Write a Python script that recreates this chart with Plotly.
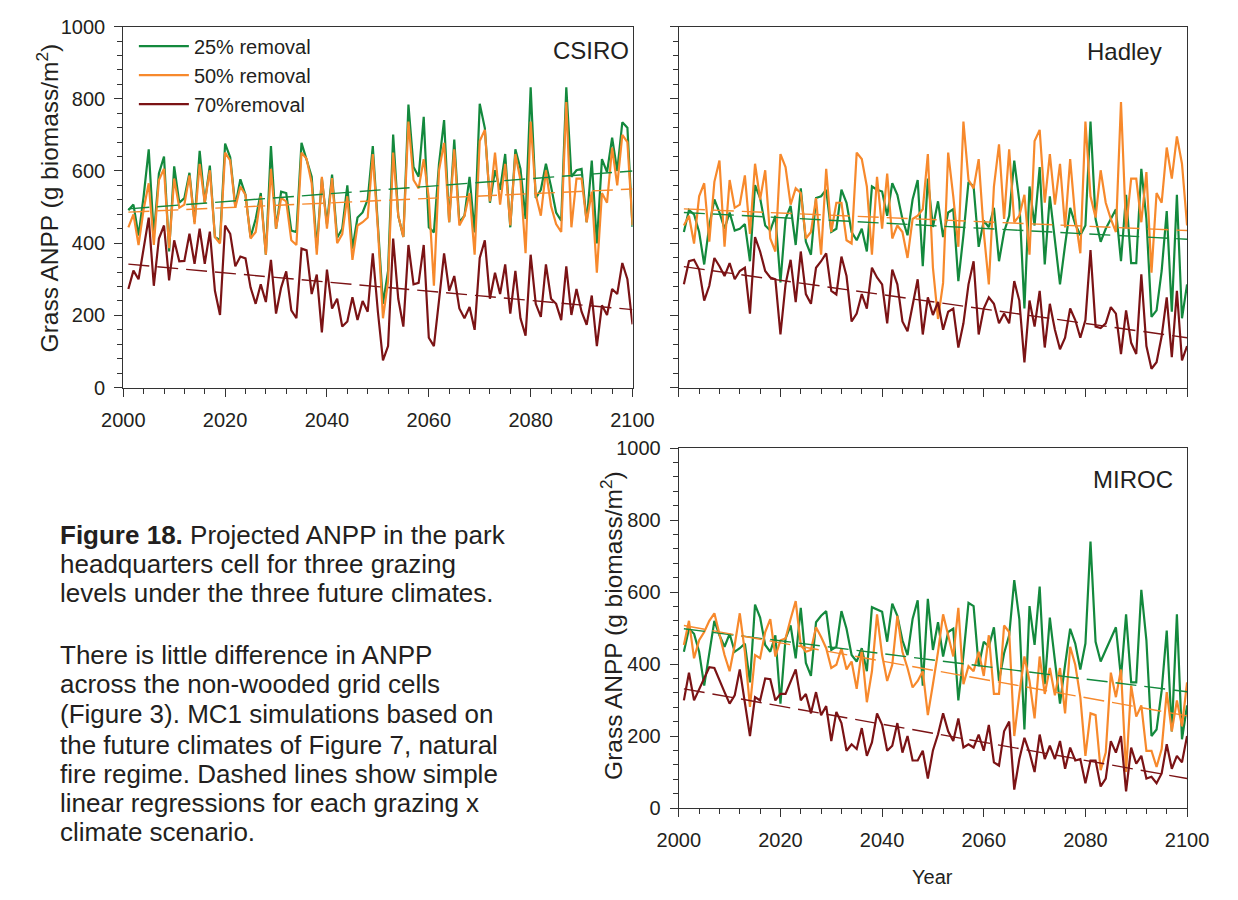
import plotly.graph_objects as go

years = list(range(2001, 2101))

# ---- CSIRO ----
csiro_25 = [491, 507, 421, 530, 660, 421, 593, 640, 377, 613,
            512, 525, 595, 458, 656, 512, 615, 417, 408, 676,
            638, 503, 577, 534, 417, 467, 539, 368, 669, 440,
            543, 539, 435, 431, 678, 629, 584, 386, 579, 453,
            590, 415, 440, 560, 385, 471, 485, 521, 669, 450,
            232, 323, 701, 476, 417, 784, 611, 584, 750, 444,
            430, 620, 741, 458, 687, 458, 476, 584, 430, 786,
            719, 512, 602, 548, 647, 444, 660, 606, 467, 832,
            525, 548, 620, 557, 485, 462, 832, 584, 602, 606,
            458, 629, 399, 633, 597, 692, 600, 735, 720, 445]
csiro_50 = [444, 480, 395, 494, 566, 395, 575, 606, 386, 579,
            498, 507, 588, 453, 620, 512, 602, 417, 399, 651,
            629, 498, 557, 534, 413, 431, 530, 368, 606, 440,
            525, 516, 408, 395, 651, 634, 566, 368, 584, 440,
            580, 400, 425, 530, 354, 449, 458, 471, 647, 440,
            192, 295, 651, 476, 417, 737, 575, 552, 633, 525,
            282, 602, 678, 458, 660, 449, 476, 539, 368, 683,
            714, 516, 651, 507, 620, 449, 647, 575, 372, 737,
            534, 476, 602, 503, 453, 431, 791, 444, 579, 579,
            458, 543, 318, 539, 512, 665, 560, 700, 680, 450]
csiro_70 = [273, 324, 300, 386, 471, 282, 413, 449, 297, 408,
            350, 351, 426, 343, 440, 343, 432, 268, 201, 449,
            426, 336, 363, 358, 277, 232, 286, 237, 354, 205,
            277, 322, 214, 192, 385, 380, 259, 313, 153, 327,
            219, 246, 169, 183, 250, 187, 240, 210, 372, 210,
            75, 115, 413, 246, 169, 395, 286, 290, 395, 138,
            115, 241, 372, 268, 309, 219, 192, 223, 160, 359,
            408, 246, 318, 259, 341, 205, 323, 192, 144, 368,
            232, 196, 341, 246, 232, 187, 336, 201, 273, 210,
            174, 255, 115, 228, 201, 273, 259, 345, 300, 175]

# ---- Hadley ----
hadley_25 = [431, 492, 480, 431, 341, 449, 521, 485, 440, 485,
             435, 440, 453, 350, 561, 525, 449, 435, 476, 291,
             467, 503, 395, 552, 404, 368, 525, 530, 548, 431,
             440, 548, 512, 431, 408, 440, 377, 557, 548, 543,
             476, 566, 534, 467, 422, 521, 575, 336, 579, 445,
             516, 417, 485, 494, 295, 422, 570, 557, 390, 462,
             444, 498, 350, 431, 476, 629, 516, 219, 557, 449,
             611, 341, 530, 413, 286, 395, 498, 453, 422, 449,
             737, 467, 404, 440, 467, 494, 350, 534, 345, 345,
             606, 467, 196, 214, 323, 489, 210, 534, 192, 286]
hadley_50 = [449, 476, 399, 530, 566, 404, 570, 629, 390, 575,
             498, 507, 588, 426, 620, 521, 602, 413, 377, 647,
             611, 507, 552, 539, 413, 431, 525, 368, 606, 431,
             512, 512, 408, 399, 651, 633, 557, 368, 584, 440,
             593, 413, 449, 431, 359, 467, 476, 494, 647, 332,
             190, 290, 651, 530, 390, 737, 575, 552, 633, 431,
             286, 557, 674, 467, 660, 458, 476, 534, 368, 683,
             714, 512, 647, 507, 620, 444, 633, 471, 372, 737,
             530, 471, 602, 512, 467, 431, 791, 440, 579, 579,
             458, 597, 318, 539, 512, 665, 579, 696, 620, 449]
hadley_70 = [286, 350, 354, 327, 241, 282, 359, 336, 309, 345,
             300, 323, 332, 205, 417, 377, 323, 305, 300, 147,
             286, 354, 237, 377, 259, 232, 332, 350, 372, 268,
             258, 363, 309, 183, 205, 259, 219, 332, 305, 286,
             178, 327, 286, 183, 156, 232, 300, 147, 250, 201,
             237, 160, 210, 219, 111, 178, 286, 350, 147, 219,
             250, 232, 178, 205, 178, 295, 241, 70, 241, 169,
             268, 111, 232, 160, 106, 138, 219, 187, 138, 187,
             381, 169, 165, 178, 223, 205, 93, 214, 124, 93,
             314, 115, 52, 70, 142, 250, 84, 268, 75, 115]

# ---- MIROC ----
miroc_25 = [434, 498, 484, 434, 340, 434, 520, 480, 448, 484,
            434, 444, 457, 349, 565, 529, 453, 434, 480, 290,
            471, 507, 416, 556, 403, 367, 516, 534, 547, 439,
            448, 547, 498, 425, 407, 444, 380, 558, 552, 545,
            462, 568, 534, 466, 425, 525, 577, 340, 581, 439,
            516, 421, 489, 498, 299, 425, 570, 561, 394, 462,
            448, 502, 353, 430, 480, 633, 525, 218, 561, 453,
            615, 344, 529, 416, 290, 398, 498, 457, 385, 457,
            740, 462, 407, 439, 471, 502, 362, 538, 349, 349,
            606, 466, 200, 218, 326, 493, 213, 538, 191, 285]
miroc_50 = [453, 520, 416, 466, 489, 520, 541, 480, 425, 380,
            453, 541, 434, 281, 425, 416, 489, 525, 421, 466,
            471, 525, 575, 453, 434, 439, 502, 475, 444, 389,
            398, 444, 385, 407, 331, 439, 294, 380, 538, 425,
            353, 398, 534, 434, 389, 335, 353, 380, 258, 344,
            434, 538, 480, 421, 556, 344, 394, 380, 434, 367,
            480, 317, 317, 507, 489, 200, 317, 421, 353, 249,
            421, 317, 389, 313, 389, 263, 448, 398, 308, 145,
            263, 258, 105, 154, 376, 308, 385, 100, 340, 254,
            285, 159, 159, 114, 164, 322, 213, 299, 227, 349]
miroc_70 = [299, 376, 299, 331, 358, 391, 389, 358, 322, 290,
            313, 385, 294, 200, 308, 299, 360, 358, 299, 317,
            317, 349, 385, 299, 317, 263, 322, 258, 283, 186,
            267, 236, 159, 177, 164, 222, 145, 182, 263, 231,
            159, 173, 236, 154, 200, 132, 132, 159, 82, 160,
            205, 263, 213, 186, 249, 168, 177, 168, 204, 159,
            231, 127, 118, 213, 240, 51, 136, 195, 154, 100,
            204, 136, 173, 136, 186, 109, 168, 132, 136, 69,
            132, 132, 60, 82, 186, 154, 200, 46, 168, 123,
            145, 82, 87, 69, 96, 177, 109, 145, 127, 200]

# Regression lines (dashed): value at 2001 and at 2100
trend_years = [2001, 2100]
csiro_trend = [[495, 600], [486, 550], [342, 216]]
hadley_trend = [[485, 411], [495, 435], [335, 138]]
miroc_trend = [[498, 323], [507, 256], [331, 82]]

series_names = ["25% removal", "50% removal", "70%removal"]
panel_names = ["CSIRO", "Hadley", "MIROC"]
x_ticks = [2000, 2020, 2040, 2060, 2080, 2100]
y_ticks = [0, 200, 400, 600, 800, 1000]
y_title = "Grass ANPP (g biomass/m<sup>2</sup>)"
caption_lines = [
    "<b>Figure 18.</b> Projected ANPP in the park",
    "headquarters cell for three grazing",
    "levels under the three future climates.",
    "There is little difference in ANPP",
    "across the non-wooded grid cells",
    "(Figure 3). MC1 simulations based on",
    "the future climates of Figure 7, natural",
    "fire regime. Dashed lines show simple",
    "linear regressions for each grazing x",
    "climate scenario.",
]

colors = ["#13893d", "#f7892c", "#7b1315"]
FONT = "Liberation Sans, Arial, sans-serif"
TXT = "#231f20"
W, H = 1238, 900

panels = [
    (csiro_25, csiro_50, csiro_70),
    (hadley_25, hadley_50, hadley_70),
    (miroc_25, miroc_50, miroc_70),
]
trends = [csiro_trend, hadley_trend, miroc_trend]

fig = go.Figure()
for p, data in enumerate(panels):
    xa = "x" if p == 0 else f"x{p+1}"
    ya = "y" if p == 0 else f"y{p+1}"
    for s, vals in enumerate(data):
        fig.add_trace(go.Scatter(
            x=years, y=vals, mode="lines", name=series_names[s],
            line=dict(color=colors[s], width=2.2),
            showlegend=(p == 0), xaxis=xa, yaxis=ya, legendrank=s))
    for s, tv in enumerate(trends[p]):
        fig.add_trace(go.Scatter(
            x=trend_years, y=tv, mode="lines", showlegend=False, hoverinfo="skip",
            line=dict(color=colors[s], width=1.4, dash="21px,8px"),
            xaxis=xa, yaxis=ya))

def px_x(v):
    return v / W

def px_y(v):
    return 1 - v / H

dom = {
    0: ([px_x(105), px_x(633)], [px_y(386), px_y(16)]),
    1: ([px_x(681), px_x(1208)], [px_y(386), px_y(16)]),
    2: ([px_x(681), px_x(1208)], [px_y(817), px_y(448)]),
}

axis_common = dict(
    showline=True, linecolor="#333333", linewidth=1.2, mirror=True,
    ticks="outside", ticklen=8, tickwidth=1.2, tickcolor="#333333",
    showgrid=False, zeroline=False,
    tickfont=dict(family=FONT, size=20, color=TXT),
)

layout = dict(
    width=W, height=H, margin=dict(l=0, r=0, t=0, b=0),
    paper_bgcolor="white", plot_bgcolor="white",
    font=dict(family=FONT, color=TXT),
    showlegend=True,
    legend=dict(x=px_x(116), y=px_y(16), xanchor="left", yanchor="top",
                bgcolor="rgba(0,0,0,0)", font=dict(family=FONT, size=20, color=TXT),
                itemwidth=50, tracegroupgap=0),
)
for p in range(3):
    key_x = "xaxis" if p == 0 else f"xaxis{p+1}"
    key_y = "yaxis" if p == 0 else f"yaxis{p+1}"
    ya = "y" if p == 0 else f"y{p+1}"
    xa = "x" if p == 0 else f"x{p+1}"
    layout[key_x] = dict(axis_common, domain=dom[p][0], range=[2000, 2100],
                         tickvals=x_ticks, anchor=ya,
                         showticklabels=(p != 1), ticklabelstandoff=6,
                         minor=dict(dtick=4, tick0=2000, ticks="outside", ticklen=5,
                                    tickwidth=1.1, tickcolor="#333333"))
    layout[key_y] = dict(axis_common, domain=dom[p][1], range=[0, 1000],
                         tickvals=y_ticks, anchor=xa,
                         showticklabels=(p != 1), ticklabelstandoff=5,
                         minor=dict(dtick=40, tick0=0, ticks="outside", ticklen=5,
                                    tickwidth=1.1, tickcolor="#333333"))

fig.update_layout(**layout)

ann = []
for name, (ax, ay) in zip(panel_names, [(631, 41), (1184, 42), (1195, 480)]):
    ann.append(dict(text=name, x=px_x(ax), y=px_y(ay), xref="paper", yref="paper",
                    xanchor="right", yanchor="middle", showarrow=False,
                    font=dict(family=FONT, size=24, color=TXT)))
for cx, cy in [(26, 192), (611, 630)]:
    ann.append(dict(text=y_title, x=px_x(cx), y=px_y(cy), xref="paper", yref="paper",
                    xanchor="center", yanchor="middle", textangle=-90, showarrow=False,
                    font=dict(family=FONT, size=24.5, color=TXT)))
ann.append(dict(text="Year", x=px_x(944), y=px_y(888), xref="paper", yref="paper",
                xanchor="center", yanchor="middle", showarrow=False,
                font=dict(family=FONT, size=20, color=TXT)))
baselines = [545, 575, 605, 668, 698, 729, 760, 790, 820, 850]
for line, b in zip(caption_lines, baselines):
    ann.append(dict(text=line, x=px_x(37), y=px_y(b - 8), xref="paper", yref="paper",
                    xanchor="left", yanchor="middle", showarrow=False, align="left",
                    font=dict(family=FONT, size=26, color=TXT)))
fig.update_layout(annotations=ann)

fig.write_html("out.html")
